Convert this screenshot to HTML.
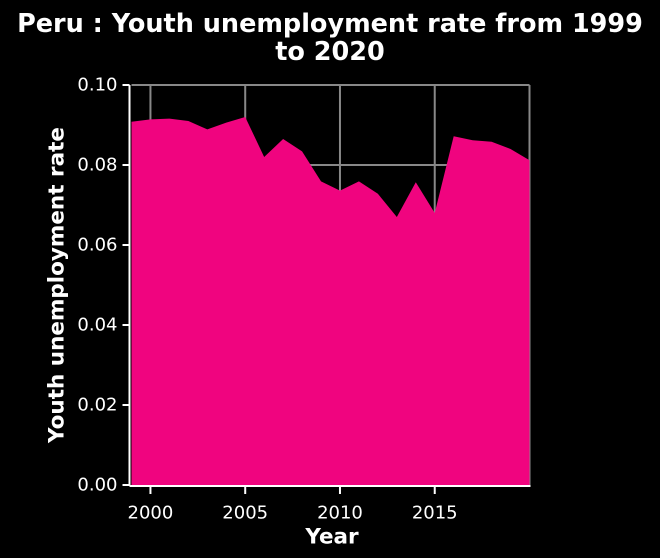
<!DOCTYPE html>
<html><head><meta charset="utf-8"><style>
html,body{margin:0;padding:0;background:#000;}
svg{display:block;font-family:"DejaVu Sans","Liberation Sans",sans-serif;}
</style></head><body>
<svg id="chart" width="660" height="558">
<rect width="660" height="558" fill="#000"/>
<text x="330" y="32" text-anchor="middle" fill="#fff" font-size="25.5" font-weight="bold">Peru : Youth unemployment rate from 1999</text>
<text x="330" y="60" text-anchor="middle" fill="#fff" font-size="25.5" font-weight="bold">to 2020</text>
<g id="grid"></g>
<path id="area" fill="#f0047f"></path>
<g id="axes"></g>
<text x="332" y="537" text-anchor="middle" dominant-baseline="central" fill="#fff" font-size="21.5" font-weight="bold">Year</text>
<text transform="translate(57,285) rotate(-90)" text-anchor="middle" dominant-baseline="central" fill="#fff" font-size="21.5" font-weight="bold">Youth unemployment rate</text>
</svg>
<script>
const years=[1999,2000,2001,2002,2003,2004,2005,2006,2007,2008,2009,2010,2011,2012,2013,2014,2015,2016,2017,2018,2019,2020];
const rates=[0.0908,0.0914,0.0916,0.0910,0.0889,0.0906,0.0920,0.0820,0.0865,0.0834,0.0759,0.0736,0.0759,0.0728,0.0670,0.0757,0.0680,0.0872,0.0862,0.0858,0.0840,0.0812];
const xTicks=[2000,2005,2010,2015];
const yTicks=[0,0.02,0.04,0.06,0.08,0.10];
const yLabels=["0.00","0.02","0.04","0.06","0.08","0.10"];
const NS="http://www.w3.org/2000/svg";
const x0=131.5,x1=529.5,yb=485,yt=85;
function xs(v){return x0+(v-1999)/(2020-1999)*(x1-x0);}
function ys(v){return yb-(v/0.10)*(yb-yt);}
function mk(tag,attrs,parent){const e=document.createElementNS(NS,tag);for(const k in attrs)e.setAttribute(k,attrs[k]);parent.appendChild(e);return e;}
const grid=document.getElementById('grid'),axes=document.getElementById('axes');
xTicks.forEach(t=>{const l=mk('line',{x1:xs(t),x2:xs(t),y1:yt,y2:yb,stroke:'#888','stroke-width':2},grid);

});
yTicks.forEach(t=>{const l=mk('line',{x1:x0,x2:x1,y1:ys(t),y2:ys(t),stroke:'#888','stroke-width':2},grid);

});
const rb=mk('line',{x1:x1,x2:x1,y1:yt,y2:yb,stroke:'#888','stroke-width':2},grid);


let d='M'+xs(years[0])+','+ys(0);
years.forEach((y,i)=>{d+=' L'+xs(y)+','+ys(rates[i]);});
d+=' L'+xs(years[years.length-1])+','+ys(0)+' Z';
document.getElementById('area').setAttribute('d',d);
mk('line',{x1:x0-2,x2:x0-2,y1:yt,y2:yb+1,stroke:'#fff','stroke-width':2},axes);
mk('line',{x1:x0-2,x2:x1+1,y1:yb+1,y2:yb+1,stroke:'#fff','stroke-width':2},axes);
yTicks.forEach((t,i)=>{mk('line',{x1:x0-9,x2:x0-2,y1:ys(t),y2:ys(t),stroke:'#fff','stroke-width':2},axes);
const tx=mk('text',{x:x0-14,y:ys(t),'text-anchor':'end','dominant-baseline':'central',fill:'#fff','font-size':18},axes);
tx.textContent=yLabels[i];

});
xTicks.forEach(t=>{mk('line',{x1:xs(t),x2:xs(t),y1:yb+1,y2:yb+9,stroke:'#fff','stroke-width':2},axes);
const tx=mk('text',{x:xs(t),y:513,'text-anchor':'middle','dominant-baseline':'central',fill:'#fff','font-size':18},axes);
tx.textContent=t;

});
</script>
</body></html>
